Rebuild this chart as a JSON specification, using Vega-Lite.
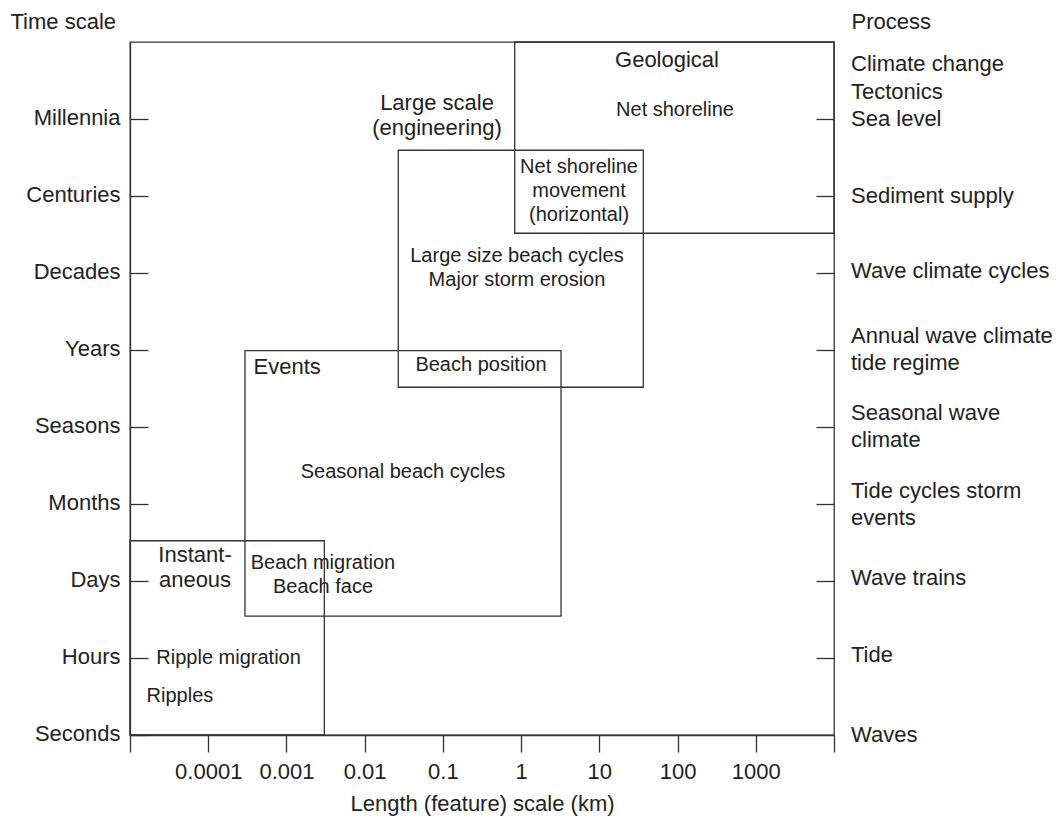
{
  "$schema": "https://vega.github.io/schema/vega-lite/v6.json",
  "width": 704,
  "height": 693,
  "autosize": {"type": "none"},
  "padding": {"left": 130, "top": 42, "right": 228, "bottom": 83},
  "background": "white",
  "config": {
    "view": {"stroke": "#333", "strokeWidth": 1.3},
    "font": "Liberation Sans",
    "axis": {
      "domainColor": "#333", "tickColor": "#333", "domainWidth": 1.3, "tickWidth": 1.3,
      "labelColor": "#222", "titleColor": "#222",
      "labelFont": "Liberation Sans", "titleFont": "Liberation Sans",
      "labelFontSize": 22, "titleFontSize": 22, "titleFontWeight": "normal", "grid": false
    },
    "text": {"color": "#222", "font": "Liberation Sans"}
  },
  "datasets": {
    "boxes": [
      {"name": "Geological", "x0": 0.828, "x1": 10000, "y0": 6.516, "y1": 9},
      {"name": "Large scale", "x0": 0.0269, "x1": 36.5, "y0": 4.516, "y1": 7.594},
      {"name": "Events", "x0": 0.000295, "x1": 3.24, "y0": 1.545, "y1": 4.991},
      {"name": "Instantaneous", "x0": 0.00001, "x1": 0.00305, "y0": 0, "y1": 2.523}
    ],
    "titles": [
      {"label": "Geological", "x": 73.3, "y": 8.766},
      {"label": "Large scale\n(engineering)", "x": 0.0841, "y": 8.208},
      {"label": "Events", "x": 0.00102, "y": 4.779},
      {"label": "Instant-\naneous", "x": 0.0000678, "y": 2.338}
    ],
    "notes": [
      {"label": "Net shoreline", "x": 92.7, "y": 8.117},
      {"label": "Net shoreline\nmovement\n(horizontal)", "x": 5.5, "y": 7.377},
      {"label": "Large size beach cycles\nMajor storm erosion", "x": 0.885, "y": 6.221},
      {"label": "Beach position", "x": 0.307, "y": 4.805},
      {"label": "Seasonal beach cycles", "x": 0.0309, "y": 3.416},
      {"label": "Beach migration\nBeach face", "x": 0.00293, "y": 2.234},
      {"label": "Ripple migration", "x": 0.000182, "y": 1.0},
      {"label": "Ripples", "x": 0.0000435, "y": 0.506}
    ],
    "processes": [
      {"label": "Climate change\nTectonics\nSea level", "y": 8.714},
      {"label": "Sediment supply", "y": 7.0},
      {"label": "Wave climate cycles", "y": 6.026},
      {"label": "Annual wave climate\ntide regime", "y": 5.182},
      {"label": "Seasonal wave\nclimate", "y": 4.182},
      {"label": "Tide cycles storm\nevents", "y": 3.169},
      {"label": "Wave trains", "y": 2.039},
      {"label": "Tide", "y": 1.039},
      {"label": "Waves", "y": 0.0}
    ]
  },
  "resolve": {"axis": {"x": "independent", "y": "independent"}},
  "layer": [
    {
      "data": {"name": "boxes"},
      "mark": {"type": "rect", "fillOpacity": 0, "stroke": "#333", "strokeWidth": 1.3},
      "encoding": {
        "x": {
          "field": "x0", "type": "quantitative",
          "scale": {"type": "log", "domain": [0.00001, 10000], "nice": false},
          "axis": {
            "title": "Length (feature) scale (km)",
            "values": [0.00001, 0.0001, 0.001, 0.01, 0.1, 1, 10, 100, 1000, 10000],
            "format": "~f",
            "labelExpr": "datum.value < 0.00005 || datum.value > 5000 ? '' : datum.label",
            "tickSize": 17, "labelPadding": 9, "domain": true,
            "titleBaseline": "alphabetic", "titleY": 75,
            "labelFlush": false, "labelOverlap": false
          }
        },
        "x2": {"field": "x1"},
        "y": {
          "field": "y0", "type": "quantitative",
          "scale": {"domain": [0, 9], "nice": false, "zero": false},
          "axis": {
            "title": "Time scale",
            "values": [0, 1, 2, 3, 4, 5, 6, 7, 8],
            "labelExpr": "['Seconds','Hours','Days','Months','Seasons','Years','Decades','Centuries','Millennia'][datum.value]",
            "tickSize": -18, "labelPadding": 28, "labelOffset": -2, "domain": true,
            "titleAngle": 0, "titleAlign": "left", "titleBaseline": "alphabetic",
            "titleX": -120, "titleY": -14,
            "labelFlush": false, "labelOverlap": false
          }
        },
        "y2": {"field": "y1"}
      }
    },
    {
      "data": {"name": "titles"},
      "mark": {"type": "text", "fontSize": 22, "align": "center", "baseline": "middle", "lineBreak": "\n", "lineHeight": 25},
      "encoding": {
        "x": {"field": "x", "type": "quantitative", "scale": {"type": "log"}, "axis": null},
        "y": {"field": "y", "type": "quantitative", "axis": null},
        "text": {"field": "label"}
      }
    },
    {
      "data": {"name": "notes"},
      "mark": {"type": "text", "fontSize": 20, "align": "center", "baseline": "middle", "lineBreak": "\n", "lineHeight": 24},
      "encoding": {
        "x": {"field": "x", "type": "quantitative", "scale": {"type": "log"}, "axis": null},
        "y": {"field": "y", "type": "quantitative", "axis": null},
        "text": {"field": "label"}
      }
    },
    {
      "data": {"name": "processes"},
      "mark": {"type": "text", "fontSize": 22, "align": "left", "baseline": "middle", "dx": 17, "lineBreak": "\n", "lineHeight": 27.5},
      "encoding": {
        "x": {"datum": 10000, "type": "quantitative", "scale": {"type": "log"}, "axis": null},
        "y": {
          "field": "y", "type": "quantitative",
          "axis": {
            "orient": "right", "title": "Process",
            "values": [1, 2, 3, 4, 5, 6, 7, 8],
            "labels": false, "tickSize": -18, "domain": false,
            "titleAngle": 0, "titleAlign": "left", "titleBaseline": "alphabetic",
            "titleX": 17, "titleY": -14
          }
        },
        "text": {"field": "label"}
      }
    }
  ]
}
